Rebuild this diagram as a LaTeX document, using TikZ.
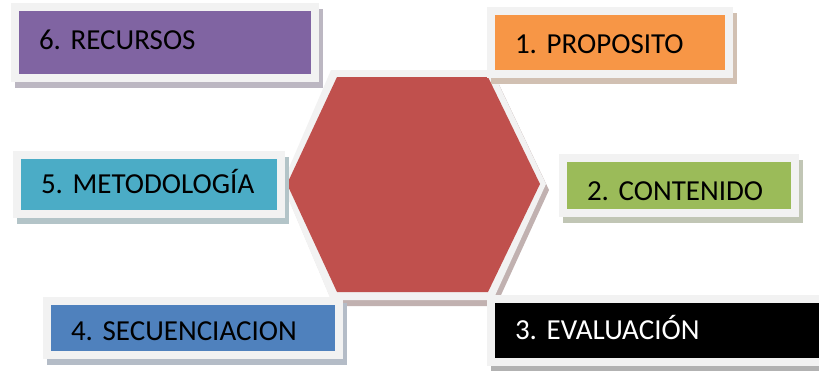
\documentclass[tikz,border=0pt]{standalone}
\usepackage{fontspec}
\setmainfont{Carlito}
\usetikzlibrary{calc}
\definecolor{morado}{HTML}{8064A2}
\definecolor{naranja}{HTML}{F79646}
\definecolor{verde}{HTML}{9BBB59}
\definecolor{aguamarina}{HTML}{4BACC6}
\definecolor{azul}{HTML}{4F81BD}
\definecolor{rojo}{HTML}{C0504D}
\definecolor{marco}{HTML}{F2F2F2}
\tikzset{
  caja/.style={rectangle, draw=marco, line width=8pt, inner xsep=24pt,
    inner ysep=0pt, align=left,
    font=\fontsize{29}{33}\selectfont\frenchspacing,
    text height=18.7pt, text depth=0pt},
  sombra/.style={preaction={draw=#1, fill=#1, line width=8pt,
      transform canvas={shift={(4pt,-6pt)}}}}
}

\begin{document}
\begin{tikzpicture}[x=1pt,y=-1pt]
    \useasboundingbox (0,0) rectangle (819,370);
    \clip (0,0) rectangle (819,370);

    \coordinate (h1) at (331,70);
    \coordinate (h2) at (492,70);
    \coordinate (h3) at (546,184);
    \coordinate (h4) at (493,300);
    \coordinate (h5) at (331,300);
    \coordinate (h6) at (282,184);

    % the shadow of the hexagon
    \fill[rojo!40!black!35] ([shift={(3,6)}]h1) -- ([shift={(3,6)}]h2)
    -- ([shift={(3,6)}]h3) -- ([shift={(3,6)}]h4) -- ([shift={(3,6)}]h5)
    -- ([shift={(3,6)}]h6) -- cycle;
    % the light frame
    \fill[marco] (h1) -- (h2) -- (h3) -- (h4) -- (h5) -- (h6) -- cycle;
    % the red hexagon
    \fill[rojo] ($(h1)+(6,7)$) -- ($(h2)+(-4,7)$) -- ($(h3)+(-6,0)$)
    -- ($(h4)+(-5,-8)$) -- ($(h5)+(6,-8)$) -- ($(h6)+(5,0)$) -- cycle;

    % the boxes
    \node[caja, sombra=morado!50!black!35, fill=morado, text width=251.5pt,
      minimum height=71pt, text depth=5.6pt] (recursos) at (164.75,42.5)
      {6. RECURSOS};
    \node[caja, sombra=naranja!50!black!35, fill=naranja, text width=189.5pt,
      minimum height=62.5pt, text height=21.7pt] (proposito) at (609.75,42.25)
      {1. PROPOSITO};
    \node[caja, sombra=verde!50!black!35, fill=verde, text width=184pt,
      minimum height=55pt, text height=29pt] (contenido) at (679,185.5)
      {2. CONTENIDO};
    \node[caja, sombra=aguamarina!50!black!35, fill=aguamarina,
      text width=215.5pt, minimum height=59pt] (metodologia) at (148.75,184.5)
      {\mbox{5. METODOLOGÍA}};
    \node[caja, sombra=azul!50!black!35, fill=azul, text width=243.5pt,
      minimum height=53.5pt, text height=25pt] (secuenciacion)
      at (192.75,327.75) {4. SECUENCIACION};
    \node[caja, sombra=black!30, fill=black, text=white, text width=311pt,
      minimum height=63pt] (evaluacion) at (670.5,330.5) {3. EVALUACIÓN};
\end{tikzpicture}
\end{document}
